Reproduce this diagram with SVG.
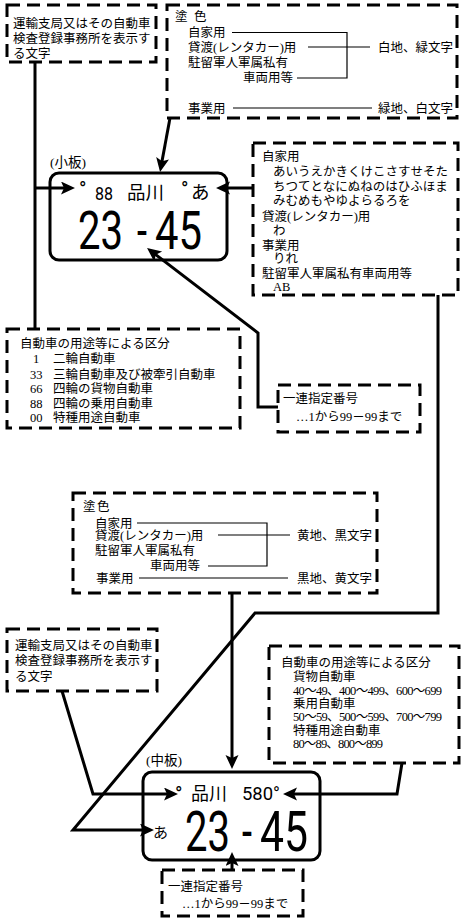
<svg xmlns="http://www.w3.org/2000/svg" width="470" height="920" viewBox="0 0 470 920">
<style>
.t{font-family:"Liberation Serif","Noto Sans CJK JP",serif;font-size:12.5px;fill:#000}
.box{fill:#fff;stroke:#000;stroke-width:3;stroke-dasharray:13 7}
.conn{fill:none;stroke:#000;stroke-width:3}
.thin{fill:none;stroke:#000;stroke-width:1.2}
.plate{fill:#fff;stroke:#000;stroke-width:3}
.pl{font-family:Roboto,"Liberation Sans","Noto Sans CJK JP",sans-serif;fill:#000}
.cj{font-family:"Noto Sans CJK JP",sans-serif;fill:#000}
.lab{font-family:"Liberation Serif","Noto Sans CJK JP",serif;font-size:13.5px;fill:#000}
</style>
<defs>
<marker id="ah" markerUnits="userSpaceOnUse" markerWidth="16" markerHeight="14" refX="6" refY="6.5" orient="auto">
<path d="M0,0 L14,6.5 L0,13 L3,6.5 z" fill="#000"/>
</marker>
</defs>

<g id="boxA">
<rect class="box" x="7" y="5" width="149" height="57"/>
<text class="t" x="13" y="27.5">運輸支局又はその自動車</text>
<text class="t" x="13" y="42.5">検査登録事務所を表示す</text>
<text class="t" x="13" y="57.5">る文字</text>
</g>

<g id="boxB">
<rect class="box" x="167" y="5" width="290" height="113"/>
<text class="t" x="175" y="21">塗</text>
<text class="t" x="194" y="21">色</text>
<text class="t" x="188" y="37">自家用</text>
<text class="t" x="188" y="51.5">貸渡(レンタカー)用</text>
<text class="t" x="188" y="67">駐留軍人軍属私有</text>
<text class="t" x="293" y="81.5" text-anchor="end">車両用等</text>
<text class="t" x="188" y="112.5">事業用</text>
<text class="t" x="378" y="51.5">白地、緑文字</text>
<text class="t" x="378" y="112.5">緑地、白文字</text>
<path class="thin" d="M232,32.5 H347 V78 H297 M308,47 H370 M233,108 H372"/>
</g>

<g id="plate1">
<text class="lab" x="50" y="166.5">(小板)</text>
<rect class="plate" x="50" y="173" width="177" height="87" rx="9"/>
<text class="pl" x="79" y="196" font-size="20">°</text>
<text class="pl" x="95" y="200" font-size="19" textLength="18" lengthAdjust="spacingAndGlyphs">88</text>
<text class="cj" x="127" y="199" font-size="18.5">品川</text>
<text class="pl" x="181" y="196" font-size="20">°</text>
<text class="cj" x="191" y="199" font-size="18.5">あ</text>
<text class="pl" x="78" y="249" font-size="54" textLength="45" lengthAdjust="spacingAndGlyphs">23</text>
<text class="pl" x="137" y="249" font-size="54" textLength="10" lengthAdjust="spacingAndGlyphs">-</text>
<text class="pl" x="155" y="249" font-size="54" textLength="47" lengthAdjust="spacingAndGlyphs">45</text>
</g>

<g id="boxD">
<rect class="box" x="253" y="143" width="205" height="152"/>
<text class="t" x="262" y="160.5">自家用</text>
<text class="t" x="273" y="176">あいうえかきくけこさすせそた</text>
<text class="t" x="273" y="190.5">ちつてとなにぬねのはひふほま</text>
<text class="t" x="273" y="205">みむめもやゆよらるろを</text>
<text class="t" x="262" y="220.5">貸渡(レンタカー)用</text>
<text class="t" x="273" y="234.5">わ</text>
<text class="t" x="262" y="249.5">事業用</text>
<text class="t" x="273" y="262.5">りれ</text>
<text class="t" x="262" y="278">駐留軍人軍属私有車両用等</text>
<text class="t" x="273" y="291">AB</text>
</g>

<g id="boxC">
<rect class="box" x="7" y="329" width="233" height="99"/>
<text class="t" x="20" y="347.5">自動車の用途等による区分</text>
<text class="t" x="33" y="362.5">1</text>
<text class="t" x="53" y="362.5">二輪自動車</text>
<text class="t" x="30" y="378.5">33</text>
<text class="t" x="53" y="378.5">三輪自動車及び被牽引自動車</text>
<text class="t" x="30" y="392.5">66</text>
<text class="t" x="53" y="392.5">四輪の貨物自動車</text>
<text class="t" x="30" y="407.5">88</text>
<text class="t" x="53" y="407.5">四輪の乗用自動車</text>
<text class="t" x="30" y="421.5">00</text>
<text class="t" x="53" y="421.5">特種用途自動車</text>
</g>

<g id="boxE">
<rect class="box" x="278" y="385" width="142" height="47"/>
<text class="t" x="283" y="402.5">一連指定番号</text>
<text class="t" x="296" y="420.5">…1から99－99まで</text>
</g>

<g id="boxF">
<rect class="box" x="73" y="493" width="304" height="100"/>
<text class="t" x="83" y="510.5">塗</text>
<text class="t" x="97" y="510.5">色</text>
<text class="t" x="95" y="527.5">自家用</text>
<text class="t" x="95" y="539.5">貸渡(レンタカー)用</text>
<text class="t" x="95" y="554.5">駐留軍人軍属私有</text>
<text class="t" x="200" y="569.5" text-anchor="end">車両用等</text>
<text class="t" x="96" y="582.5">事業用</text>
<text class="t" x="297" y="539.5">黄地、黒文字</text>
<text class="t" x="297" y="582.5">黒地、黄文字</text>
<path class="thin" d="M137,523 H267 V566 H208 M218,535 H290 M139,578 H288"/>
</g>

<g id="boxG">
<rect class="box" x="7" y="629" width="150" height="62"/>
<text class="t" x="15" y="649.5">運輸支局又はその自動車</text>
<text class="t" x="15" y="665">検査登録事務所を表示す</text>
<text class="t" x="15" y="680.5">る文字</text>
</g>

<g id="boxH">
<rect class="box" x="269" y="646" width="190" height="117"/>
<text class="t" x="281" y="667">自動車の用途等による区分</text>
<text class="t" x="293" y="681">貨物自動車</text>
<text class="t" x="293" y="694.5" textLength="149">40～49、400～499、600～699</text>
<text class="t" x="293" y="708">乗用自動車</text>
<text class="t" x="293" y="721" textLength="149">50～59、500～599、700～799</text>
<text class="t" x="293" y="734.5">特種用途自動車</text>
<text class="t" x="293" y="748" textLength="90">80～89、800～899</text>
</g>

<g id="plate2">
<text class="lab" x="146" y="764.5">(中板)</text>
<rect class="plate" x="143" y="772" width="177" height="88" rx="9"/>
<text class="pl" x="175" y="801" font-size="20">°</text>
<text class="cj" x="191" y="800" font-size="18">品川</text>
<text class="pl" x="242" y="800" font-size="19" textLength="38" lengthAdjust="spacingAndGlyphs">580°</text>
<text class="cj" x="153" y="838" font-size="15">あ</text>
<text class="pl" x="185" y="851" font-size="56" textLength="45" lengthAdjust="spacingAndGlyphs">23</text>
<text class="pl" x="242" y="851" font-size="56" textLength="10" lengthAdjust="spacingAndGlyphs">-</text>
<text class="pl" x="260" y="851" font-size="56" textLength="48" lengthAdjust="spacingAndGlyphs">45</text>
</g>

<g id="boxI">
<rect class="box" x="162" y="870" width="141" height="46"/>
<text class="t" x="168" y="890.5">一連指定番号</text>
<text class="t" x="182" y="907.5">…1から99－99まで</text>
</g>

<g id="connectors">
<path class="conn" d="M35,62 V329"/>
<path class="conn" d="M35,188 H67" marker-end="url(#ah)"/>
<path class="conn" d="M170,118 L161.5,164.1" marker-end="url(#ah)"/>
<path class="conn" d="M253,188 H224" marker-end="url(#ah)"/>
<path class="conn" d="M278,407 H258 V333 L153.4,252.9" marker-end="url(#ah)"/>
<path class="conn" d="M438,295 V613 H255 L73,830 H146" marker-end="url(#ah)"/>
<path class="conn" d="M62,691 L93,794 H170" marker-end="url(#ah)"/>
<path class="conn" d="M232,593 V761" marker-end="url(#ah)"/>
<path class="conn" d="M402,763 L397,794 H291" marker-end="url(#ah)"/>
<path class="conn" d="M232,870 V860" marker-end="url(#ah)"/>
</g>
</svg>
